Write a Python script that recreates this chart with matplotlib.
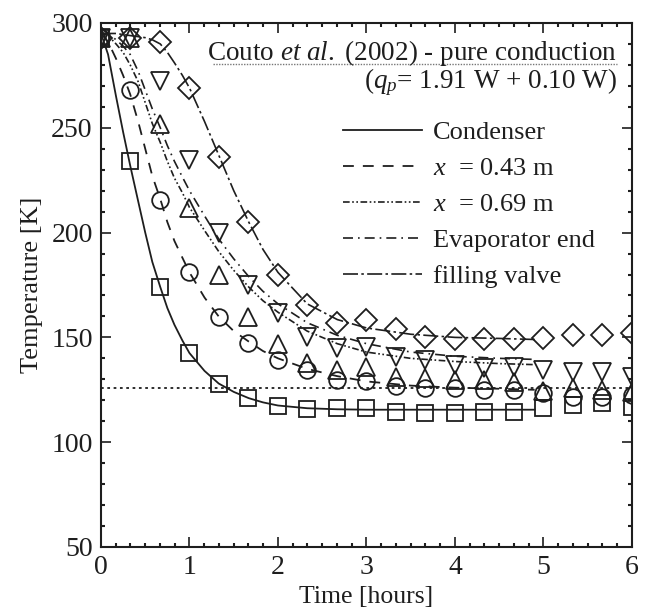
import matplotlib
matplotlib.use("Agg")
import matplotlib.pyplot as plt
from matplotlib.ticker import MultipleLocator

plt.rcParams['font.family'] = ['Liberation Serif', 'DejaVu Serif']
plt.rcParams['mathtext.fontset'] = 'custom'
plt.rcParams['mathtext.rm'] = 'Liberation Serif'
plt.rcParams['mathtext.it'] = 'Liberation Serif:italic'

# model curves (hours, K)
line_t = [0, 0.08, 0.17, 0.25, 0.33, 0.42, 0.5, 0.58, 0.67, 0.75, 0.83, 0.92, 1.0,
          1.17, 1.33, 1.5, 1.67, 1.83, 2.0, 2.33, 2.67, 3.0, 3.5, 4.0, 4.5, 4.9]
condenser = [295, 285, 265, 248, 232, 215, 200, 186, 174, 164, 156, 148.5, 142.5,
             134, 128, 124, 121, 119, 117.5, 116.2, 115.7, 115.5, 115.5, 115.5, 115.5, 115.5]
x043 = [295, 291, 283, 275, 266, 253, 240, 227, 216, 205, 196, 188, 181,
        169, 160, 153, 148, 143.5, 140, 135, 131.5, 129, 127, 126, 125.5, 125]
x069 = [295, 294, 290, 286, 280, 272, 262, 252, 243, 234, 226, 219, 212,
        201, 191, 182, 174, 167.5, 162, 153, 147, 143, 140, 138.5, 137.5, 137]
evap_end = [295, 295, 292, 289, 285, 277, 268, 259, 250, 241.5, 234, 226.5, 220,
            208, 197, 187.5, 179, 172, 166, 157, 151, 147, 143, 141, 140, 139.5]
fill_valve = [295, 295, 295, 294.5, 294, 293.5, 293, 292, 290, 286, 281, 275, 269,
              253, 237, 220, 205, 192, 181, 166, 158.5, 154.5, 151.5, 150, 149.5, 149]

# measurements every 20 minutes
meas_t = [i / 3 for i in range(19)]
squares = [293, 234, 174, 142.5, 128, 121, 117.3, 115.8, 116.3, 116.3, 114.4, 114, 114, 114.4, 114.4, 116.3, 117.7, 118.7, 117]
circles = [293, 268, 215.5, 181, 159.5, 147.5, 139, 134.4, 129.7, 129, 127, 126, 126, 125, 125, 123.5, 121.6, 121.6, 122.5]
tri_up = [293, 293, 252, 211.5, 180, 159.5, 147, 138, 134.4, 136, 131, 130.6, 129.7, 129.7, 128.7, 124.5, 126, 125, 124]
tri_down = [293, 293, 272.5, 234.6, 200, 175, 161.6, 150, 145, 145.4, 140.6, 139.2, 136.8, 135.4, 136, 134.4, 133.5, 133.5, 131]
diamonds = [293, 293, 291, 269, 236, 205, 180, 165.5, 157, 158.3, 154, 150, 149, 149, 149, 149.7, 151, 151, 152]

asymptote = 126

ink = '#1e1e1e'
fig = plt.figure(figsize=(6.49, 6.10), dpi=100)
ax = fig.add_axes([0.1556, 0.1033, 0.8182, 0.859])

ax.plot(line_t, condenser, color=ink, lw=1.3, ls='-', label='Condenser')
ax.plot(line_t, x043, color=ink, lw=1.3, ls=(0, (6, 5)), label=r'$x$  = 0.43 m')
ax.plot(line_t, x069, color=ink, lw=1.2, ls=(0, (4, 1.5, 1, 1.5, 1, 1.5)), label=r'$x$  = 0.69 m')
ax.plot(line_t, evap_end, color=ink, lw=1.2, ls=(0, (6, 3, 1, 3)), label='Evaporator end')
ax.plot(line_t, fill_valve, color=ink, lw=1.2, ls=(0, (9, 2, 1.5, 2)), label='filling valve')

ax.axhline(asymptote, color=ink, lw=1.3, ls=(0, (1.5, 2)))

mk = dict(ls='none', mfc='none', mec=ink, mew=1.3)
ax.plot(meas_t, squares, marker='s', ms=11, **mk)
ax.plot(meas_t, circles, marker='o', ms=12, **mk)
ax.plot(meas_t, tri_up, marker='^', ms=13, **mk)
ax.plot(meas_t, tri_down, marker='v', ms=13, **mk)
ax.plot(meas_t, diamonds, marker='D', ms=11, **mk)

ax.set_xlim(0, 6)
ax.set_ylim(50, 300)
ax.xaxis.set_major_locator(MultipleLocator(1))
ax.xaxis.set_minor_locator(MultipleLocator(1 / 6))
ax.yaxis.set_major_locator(MultipleLocator(50))
ax.yaxis.set_minor_locator(MultipleLocator(10))
ax.tick_params(which='both', direction='in', top=True, right=True, colors=ink, labelsize=20)
ax.tick_params(which='major', length=7, width=1.2, pad=6)
ax.tick_params(which='minor', length=3, width=1.5)
for s in ax.spines.values():
    s.set_linewidth(1.5)
    s.set_color(ink)

ax.set_xlabel('Time [hours]', fontsize=18.5, color=ink, labelpad=4)
ax.set_ylabel('Temperature [K]', fontsize=19, color=ink, labelpad=6)

ax.text(0.972, 0.929, r'Couto $et\ al.$ (2002) - pure conduction', transform=ax.transAxes,
        ha='right', va='baseline', fontsize=19.5, color=ink)
ax.plot([0.211, 0.972], [0.922, 0.922], transform=ax.transAxes, color='#777777', lw=1.0, ls=(0, (1, 1)))
ax.text(0.972, 0.876, r'($q_p$= 1.91 W + 0.10 W)', transform=ax.transAxes,
        ha='right', va='baseline', fontsize=19.5, color=ink)

leg = ax.legend(loc='upper left', bbox_to_anchor=(0.456, 0.814), frameon=False, fontsize=19,
                handlelength=3.0, handletextpad=0.4, labelspacing=0.48, borderpad=0, borderaxespad=0)
for t in leg.get_texts():
    t.set_color(ink)

fig.savefig('out.png', dpi=100)
